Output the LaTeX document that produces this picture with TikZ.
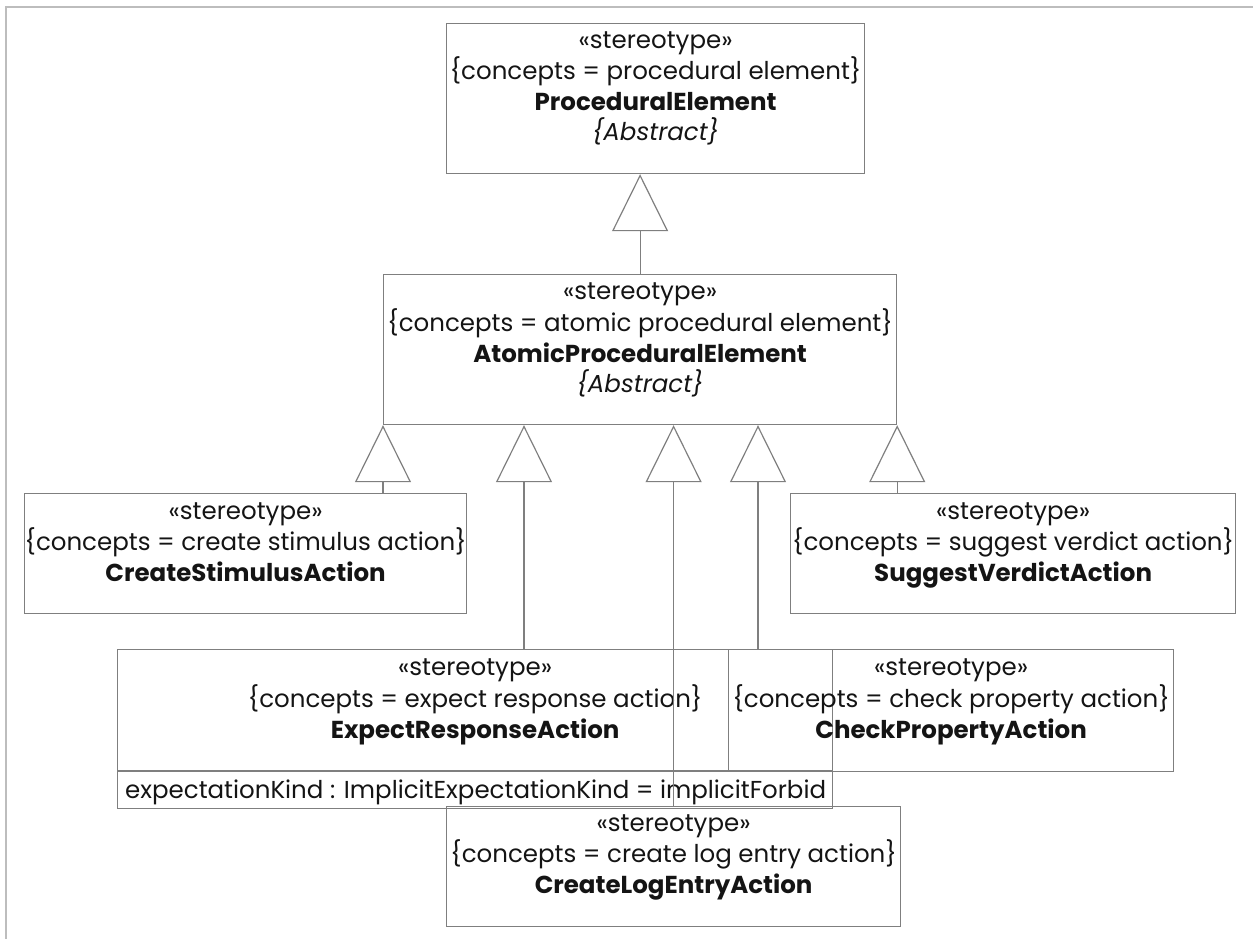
\documentclass[tikz,border=0pt]{standalone}
\usepackage{fontspec}
\setmainfont{Poppins}
\usetikzlibrary{arrows.meta}
\definecolor{linegray}{HTML}{7F7F7F}
\definecolor{framegray}{HTML}{BDBDBD}
\definecolor{textcol}{HTML}{141414}
\tikzset{
  x=1pt, y=-1pt,
  classbox/.style={draw=linegray, line width=1.2pt, inner sep=0pt, anchor=north west},
  txt/.style={anchor=base, inner sep=0pt, text=textcol, font=\fontsize{24.5}{31}\selectfont},
  attr/.style={anchor=base west, inner sep=0pt, text=textcol, font=\fontsize{24.5}{31}\selectfont},
  gen/.style={draw=linegray, line width=1.2pt, -{Triangle[open, length=57pt, width=56pt, line width=1.2pt]}},
}
\begin{document}
\begin{tikzpicture}
\useasboundingbox (0,0) rectangle (1253,939);
% frame
\draw[framegray, line width=2.2pt] (6,939) -- (6,7) -- (1253,7);

% ProceduralElement
\node[classbox, minimum width=418pt, minimum height=150pt] (pe) at (446,23) {};
\node[txt] (pe1) at ([yshift=-25.5pt]pe.north) {«stereotype»};
\node[txt] (pe2) at ([yshift=-57pt]pe.north) {\{concepts = procedural element\}};
\node[txt] (pe3) at ([yshift=-88pt]pe.north) {\textbf{ProceduralElement}};
\node[txt] (pe4) at ([yshift=-118pt]pe.north) {\textit{\{Abstract\}}};

% AtomicProceduralElement
\node[classbox, minimum width=513pt, minimum height=150pt] (ape) at (383,274) {};
\node[txt] (ape1) at ([yshift=-25.5pt]ape.north) {«stereotype»};
\node[txt] (ape2) at ([yshift=-57pt]ape.north) {\{concepts = atomic procedural element\}};
\node[txt] (ape3) at ([yshift=-88pt]ape.north) {\textbf{AtomicProceduralElement}};
\node[txt] (ape4) at ([yshift=-118pt]ape.north) {\textit{\{Abstract\}}};

% CreateStimulusAction
\node[classbox, minimum width=442pt, minimum height=120pt] (csa) at (24,493) {};
\node[txt] (csa1) at ([yshift=-26pt]csa.north) {«stereotype»};
\node[txt] (csa2) at ([yshift=-57pt]csa.north) {\{concepts = create stimulus action\}};
\node[txt] (csa3) at ([yshift=-88pt]csa.north) {\textbf{CreateStimulusAction}};

% SuggestVerdictAction
\node[classbox, minimum width=445pt, minimum height=120pt] (sva) at (790,493) {};
\node[txt] (sva1) at ([yshift=-26pt]sva.north) {«stereotype»};
\node[txt] (sva2) at ([yshift=-57pt]sva.north) {\{concepts = suggest verdict action\}};
\node[txt] (sva3) at ([yshift=-88pt]sva.north) {\textbf{SuggestVerdictAction}};

% ExpectResponseAction
\node[classbox, minimum width=715pt, minimum height=159pt] (era) at (117,649) {};
\draw[linegray, line width=1.2pt] ([yshift=-122pt]era.north west) coordinate (erasep) -- (erasep -| era.east);
\node[txt] (era1) at ([yshift=-26pt]era.north) {«stereotype»};
\node[txt] (era2) at ([yshift=-58pt]era.north) {\{concepts = expect response action\}};
\node[txt] (era3) at ([yshift=-89pt]era.north) {\textbf{ExpectResponseAction}};
\node[attr] (era4) at ([xshift=8pt,yshift=-27pt]erasep) {expectationKind : ImplicitExpectationKind = implicitForbid};

% CheckPropertyAction
\node[classbox, minimum width=445pt, minimum height=122pt] (cpa) at (728,649) {};
\node[txt] (cpa1) at ([yshift=-26pt]cpa.north) {«stereotype»};
\node[txt] (cpa2) at ([yshift=-58pt]cpa.north) {\{concepts = check property action\}};
\node[txt] (cpa3) at ([yshift=-89pt]cpa.north) {\textbf{CheckPropertyAction}};

% CreateLogEntryAction
\node[classbox, minimum width=454pt, minimum height=120pt] (clea) at (446,806) {};
\node[txt] (clea1) at ([yshift=-25pt]clea.north) {«stereotype»};
\node[txt] (clea2) at ([yshift=-56pt]clea.north) {\{concepts = create log entry action\}};
\node[txt] (clea3) at ([yshift=-87pt]clea.north) {\textbf{CreateLogEntryAction}};

% generalization points on AtomicProceduralElement
\coordinate (g2) at ([xshift=141pt]ape.south west);
\coordinate (g4) at ([xshift=375pt]ape.south west);

% generalizations
\draw[gen] (ape.north) -- (ape.north |- pe.south);
\draw[gen] (csa.north -| ape.south west) -- (ape.south west);
\draw[gen] (era.north -| g2) -- (g2);
\draw[gen] (clea.north) -- (clea.north |- ape.south);
\draw[gen] (cpa.north -| g4) -- (g4);
\draw[gen] (sva.north -| ape.south east) -- (ape.south east);
\end{tikzpicture}
\end{document}
